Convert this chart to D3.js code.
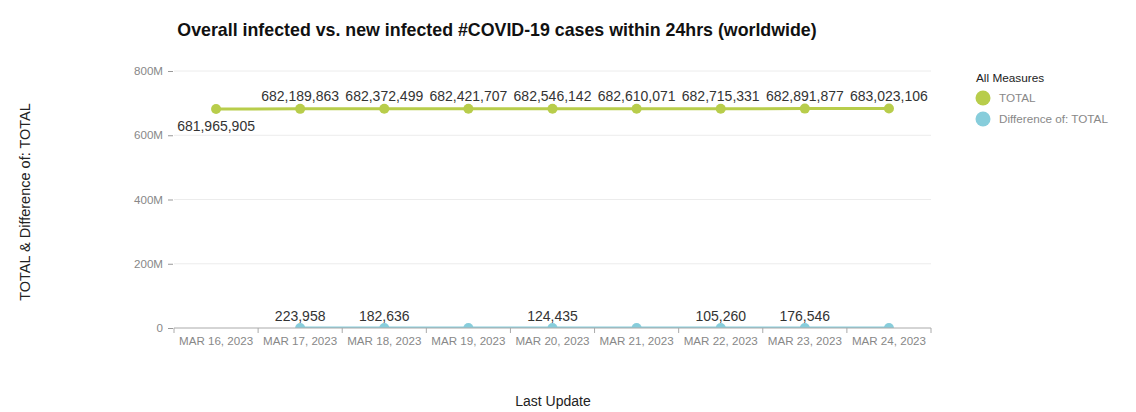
<!DOCTYPE html>
<html>
<head>
<meta charset="utf-8">
<script src="https://cdn.jsdelivr.net/npm/d3@7"></script>
<style>
  body { margin: 0; background: #fff; }
  svg { font-family: "Liberation Sans", Arial, sans-serif; }
  .tick text { fill: #888; font-size: 11.6px; }
</style>
</head>
<body>
<div id="chart"></div>
<script>
// chart values
let dates = ["MAR 16, 2023", "MAR 17, 2023", "MAR 18, 2023", "MAR 19, 2023", "MAR 20, 2023",
             "MAR 21, 2023", "MAR 22, 2023", "MAR 23, 2023", "MAR 24, 2023"];
let totalValues = [681965905, 682189863, 682372499, 682421707, 682546142,
                   682610071, 682715331, 682891877, 683023106];
// no difference for the first day
let diffDates = dates.slice(1);
let diffValues = [223958, 182636, 49208, 124435, 63929, 105260, 176546, 131229];
// labels the original chart printed for the difference series
let diffLabelShown = [true, true, false, true, false, true, true, false];
let yTicks = [0, 200e6, 400e6, 600e6, 800e6];
let seriesNames = ["TOTAL", "Difference of: TOTAL"];
let seriesColors = ["#b8cd4b", "#87cddb"];

let svgWidth = 1136;
let svgHeight = 412;

var margin = {
    top: 71,
    right: 205,
    bottom: 84,
    left: 174
};

let width = svgWidth - margin.left - margin.right;
let height = svgHeight - margin.top - margin.bottom;

let svg = d3.select("#chart")
    .append("svg")
    .attr("width", svgWidth)
    .attr("height", svgHeight);

let chartGroup = svg.append("g")
    .attr("transform", `translate(${margin.left}, ${margin.top})`);

// scales
let xScale = d3.scaleBand()
    .domain(dates)
    .range([0, width]);

let yScale = d3.scaleLinear()
    .domain([0, 800e6])
    .range([height, 0]);

let xMid = d => xScale(d) + xScale.bandwidth() / 2;

// gridlines
chartGroup.append("g")
    .selectAll("line")
    .data(yTicks.filter(t => t > 0))
    .enter()
    .append("line")
    .attr("x1", 0)
    .attr("x2", width)
    .attr("y1", d => yScale(d))
    .attr("y2", d => yScale(d))
    .attr("stroke", "#ececec");

// y axis
let yAxis = chartGroup.append("g")
    .call(d3.axisLeft(yScale)
        .tickValues(yTicks)
        .tickSize(5)
        .tickPadding(6)
        .tickFormat(d => d === 0 ? "0" : (d / 1e6) + "M"));
yAxis.select(".domain").remove();
yAxis.selectAll(".tick line").attr("stroke", "#999").attr("transform", "translate(-1,0)");

// clip so points sit inside the plot
svg.append("defs").append("clipPath")
    .attr("id", "plotClip")
    .append("rect")
    .attr("x", -10)
    .attr("y", -10)
    .attr("width", width + 20)
    .attr("height", height + 10);

let plot = chartGroup.append("g").attr("clip-path", "url(#plotClip)");

let line = d3.line()
    .x(d => xMid(d[0]))
    .y(d => yScale(d[1]));

let totalData = dates.map((d, i) => [d, totalValues[i]]);
let diffData = diffDates.map((d, i) => [d, diffValues[i]]);

// difference series
plot.append("path")
    .datum(diffData)
    .attr("d", line)
    .attr("fill", "none")
    .attr("stroke", seriesColors[1])
    .attr("stroke-width", 3);

plot.selectAll(".diffDot")
    .data(diffData)
    .enter()
    .append("circle")
    .attr("class", "diffDot")
    .attr("cx", d => xMid(d[0]))
    .attr("cy", d => yScale(d[1]))
    .attr("r", 5)
    .attr("fill", seriesColors[1]);

// total series
plot.append("path")
    .datum(totalData)
    .attr("d", line)
    .attr("fill", "none")
    .attr("stroke", seriesColors[0])
    .attr("stroke-width", 3);

plot.selectAll(".totalDot")
    .data(totalData)
    .enter()
    .append("circle")
    .attr("class", "totalDot")
    .attr("cx", d => xMid(d[0]))
    .attr("cy", d => yScale(d[1]))
    .attr("r", 5)
    .attr("fill", seriesColors[0]);

// x axis
let xAxis = chartGroup.append("g")
    .attr("transform", `translate(0,${height})`)
    .call(d3.axisBottom(xScale).tickSize(0).tickPadding(9));
xAxis.select(".domain").attr("stroke", "#aaa").attr("d", `M0,0H${width}`);

// tick marks at band edges
xAxis.append("g")
    .selectAll("line")
    .data(dates.concat(["end"]))
    .enter()
    .append("line")
    .attr("x1", (d, i) => i * xScale.bandwidth())
    .attr("x2", (d, i) => i * xScale.bandwidth())
    .attr("y1", 0)
    .attr("y2", 5)
    .attr("stroke", "#aaa");

// data labels
let fmt = d3.format(",");
chartGroup.selectAll(".totalLabel")
    .data(totalData)
    .enter()
    .append("text")
    .attr("x", d => xMid(d[0]))
    .attr("y", (d, i) => i === 0 ? yScale(d[1]) + 22 : yScale(d[1]) - 8)
    .attr("text-anchor", "middle")
    .attr("font-size", "14px")
    .attr("fill", "#333")
    .text(d => fmt(d[1]));

chartGroup.selectAll(".diffLabel")
    .data(diffData.filter((d, i) => diffLabelShown[i]))
    .enter()
    .append("text")
    .attr("x", d => xMid(d[0]))
    .attr("y", d => yScale(d[1]) - 7)
    .attr("text-anchor", "middle")
    .attr("font-size", "14px")
    .attr("fill", "#333")
    .text(d => fmt(d[1]));

// title
svg.append("text")
    .attr("x", 497)
    .attr("y", 36)
    .attr("text-anchor", "middle")
    .attr("font-size", "17.8px")
    .attr("font-weight", "bold")
    .attr("fill", "#111")
    .text("Overall infected vs. new infected #COVID-19 cases within 24hrs (worldwide)");

// axis titles
svg.append("text")
    .attr("transform", "translate(30, 202) rotate(-90)")
    .attr("text-anchor", "middle")
    .attr("font-size", "14.5px")
    .attr("fill", "#222")
    .text("TOTAL & Difference of: TOTAL");

svg.append("text")
    .attr("x", 553)
    .attr("y", 406)
    .attr("text-anchor", "middle")
    .attr("font-size", "14px")
    .attr("fill", "#222")
    .text("Last Update");

// legend
let legend = svg.append("g").attr("transform", "translate(976, 0)");
legend.append("text")
    .attr("x", 0)
    .attr("y", 82)
    .attr("font-size", "11.8px")
    .attr("fill", "#222")
    .text("All Measures");

let legendItems = legend.selectAll(".legendItem")
    .data(seriesNames)
    .enter()
    .append("g")
    .attr("transform", (d, i) => `translate(0, ${98 + i * 21})`);

legendItems.append("circle")
    .attr("cx", 7)
    .attr("cy", 0)
    .attr("r", 7.5)
    .attr("fill", (d, i) => seriesColors[i]);

legendItems.append("text")
    .attr("x", 23)
    .attr("y", 4)
    .attr("font-size", "11.7px")
    .attr("fill", "#888")
    .text(d => d);
</script>
</body>
</html>
